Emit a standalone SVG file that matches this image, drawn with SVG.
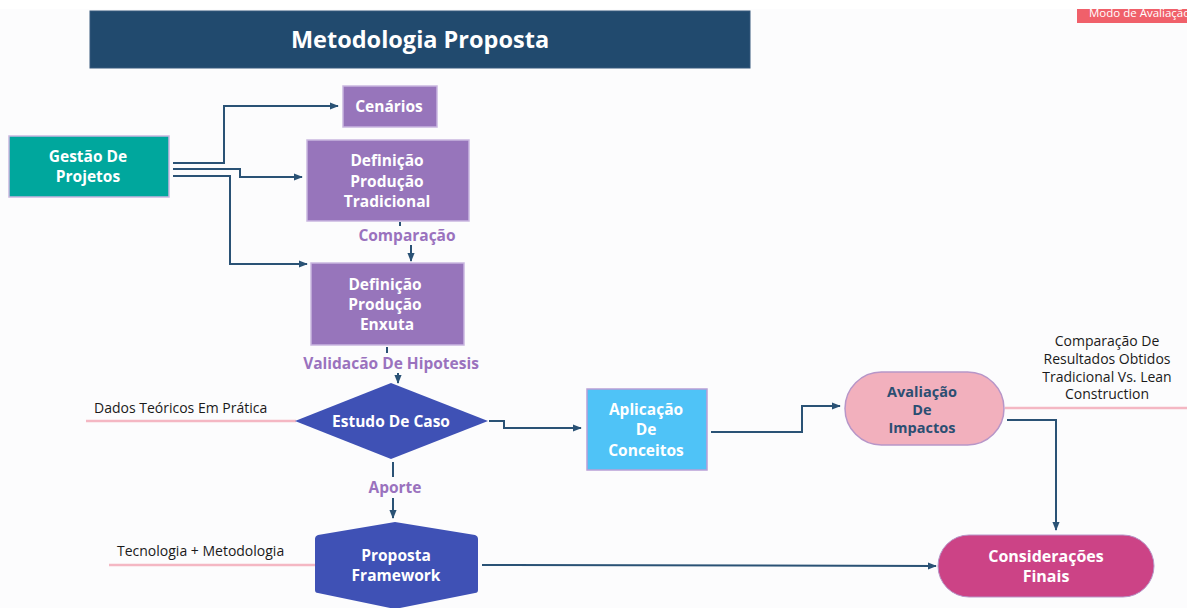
<svg xmlns="http://www.w3.org/2000/svg" width="1187" height="608" viewBox="0 0 1187 608">
<defs>
<style>
.t{font-family:"Open Sans","Liberation Sans",sans-serif;font-weight:700;fill:#fff;text-anchor:middle;dominant-baseline:central}
.lbl{font-family:"Open Sans","Liberation Sans",sans-serif;font-weight:700;fill:#9a72be;text-anchor:middle;dominant-baseline:central;font-size:15.5px}
.note{font-family:"Open Sans","Liberation Sans",sans-serif;font-weight:400;fill:#1a1a1a;font-size:14px}
.c{fill:none;stroke:#2a5275;stroke-width:2}
.pink{fill:none;stroke:#f4b7c3;stroke-width:2.5}
.box{stroke:#c9b6e0;stroke-width:1.5}
</style>
<marker id="a" viewBox="0 0 10 10" refX="9" refY="5" markerWidth="9" markerHeight="9" orient="auto" markerUnits="userSpaceOnUse">
<path d="M0,1 L10,5 L0,9 z" fill="#2a5275"/>
</marker>
<clipPath id="badgeclip"><rect x="1077" y="9" width="110" height="14"/></clipPath>
</defs>
<rect x="0" y="0" width="1187" height="608" fill="#fcfcfd"/>
<rect x="0" y="0" width="1187" height="9" fill="#ffffff"/>

<g id="title">
<rect x="90" y="11" width="660" height="57" fill="#214a6e" stroke="#36597c" stroke-width="1"/>
<text x="420" y="39" class="t" font-size="23.5">Metodologia Proposta</text>
</g>

<g id="badge" clip-path="url(#badgeclip)">
<rect x="1077" y="9" width="110" height="14" fill="#f0606a"/>
<text x="1089" y="17" font-family="'Open Sans','Liberation Sans',sans-serif" font-size="11.5" fill="#fff">Modo de Avaliação</text>
</g>

<g id="connectors">
<polyline class="c" points="173,163 224,163 224,106 338,106" marker-end="url(#a)"/>
<polyline class="c" points="173,169 240,169 240,177 302,177" marker-end="url(#a)"/>
<polyline class="c" points="173,176 230,176 230,264 307,264" marker-end="url(#a)"/>
<line class="c" x1="400" y1="222" x2="400" y2="226"/>
<line class="c" x1="411" y1="245" x2="411" y2="261" marker-end="url(#a)"/>
<line class="c" x1="387" y1="347" x2="387" y2="353"/>
<line class="c" x1="398" y1="373" x2="398" y2="383" marker-end="url(#a)"/>
<polyline class="c" points="489,421 504,421 504,428 581,428" marker-end="url(#a)"/>
<polyline class="c" points="711,432 802,432 802,406 840,406" marker-end="url(#a)"/>
<polyline class="c" points="1007,420 1056,420 1056,530" marker-end="url(#a)"/>
<line class="c" x1="393" y1="462" x2="393" y2="477"/>
<line class="c" x1="393" y1="498" x2="393" y2="518" marker-end="url(#a)"/>
<polyline class="c" points="482,565 936,566" marker-end="url(#a)"/>
<line class="pink" x1="86" y1="421" x2="296" y2="421"/>
<line class="pink" x1="1005" y1="408" x2="1187" y2="408"/>
<line class="pink" x1="109" y1="565" x2="316" y2="565"/>
</g>

<g id="gestao">
<rect class="box" x="9" y="136" width="160" height="61" fill="#00a79d"/>
<text class="t" x="88" y="156" font-size="15.5">Gestão De</text>
<text class="t" x="88" y="176" font-size="15.5">Projetos</text>
</g>

<g id="cenarios">
<rect class="box" x="343" y="86" width="94" height="41" fill="#9775bb"/>
<text class="t" x="389" y="106" font-size="15.5">Cenários</text>
</g>

<g id="tradicional">
<rect class="box" x="307" y="140" width="162" height="81" fill="#9775bb"/>
<text class="t" x="387" y="160" font-size="15.5">Definição</text>
<text class="t" x="387" y="181" font-size="15.5">Produção</text>
<text class="t" x="387" y="201" font-size="15.5">Tradicional</text>
</g>

<g id="lbl-comparacao">
<text class="lbl" x="407" y="235">Comparação</text>
</g>

<g id="enxuta">
<rect class="box" x="311" y="263" width="153" height="82" fill="#9775bb"/>
<text class="t" x="385" y="284" font-size="15.5">Definição</text>
<text class="t" x="385" y="304" font-size="15.5">Produção</text>
<text class="t" x="387" y="324" font-size="15.5">Enxuta</text>
</g>

<g id="lbl-validacao">
<text class="lbl" x="391" y="363">Validacão De Hipotesis</text>
</g>

<g id="estudo">
<polygon points="391,383 488,421 391,459 295,421" fill="#3f51b5"/>
<text class="t" x="391" y="421" font-size="15.5">Estudo De Caso</text>
</g>
<g id="note-dados">
<text class="note" x="94" y="413">Dados Teóricos Em Prática</text>
</g>

<g id="aplicacao">
<rect x="587" y="389" width="120" height="81" fill="#4fc3f7" stroke="#b89fd6" stroke-width="1.5"/>
<text class="t" x="646" y="409" font-size="15.5">Aplicação</text>
<text class="t" x="646" y="429" font-size="15.5">De</text>
<text class="t" x="646" y="450" font-size="15.5">Conceitos</text>
</g>

<g id="avaliacao">
<rect x="845" y="372" width="159" height="73" rx="36.5" ry="36.5" fill="#f2b0bd" stroke="#b796c8" stroke-width="1.5"/>
<text class="t" x="922" y="391" font-size="14.5" style="fill:#2b4e72">Avaliação</text>
<text class="t" x="922" y="409" font-size="14.5" style="fill:#2b4e72">De</text>
<text class="t" x="922" y="427" font-size="14.5" style="fill:#2b4e72">Impactos</text>
</g>
<g id="note-comparacao">
<text class="note" x="1107" y="346" text-anchor="middle">Comparação De</text>
<text class="note" x="1107" y="364" text-anchor="middle">Resultados Obtidos</text>
<text class="note" x="1107" y="382" text-anchor="middle">Tradicional Vs. Lean</text>
<text class="note" x="1107" y="399" text-anchor="middle">Construction</text>
</g>

<g id="lbl-aporte">
<text class="lbl" x="395" y="487">Aporte</text>
</g>

<g id="proposta">
<path d="M395,522 L475,535 Q478,536 478,539 L478,590 Q478,593 475,593 L395,609 L318,593 Q315,593 315,590 L315,539 Q315,536 318,535 Z" fill="#3f51b5"/>
<text class="t" x="396" y="555" font-size="15.5">Proposta</text>
<text class="t" x="396" y="575" font-size="15.5">Framework</text>
</g>
<g id="note-tecnologia">
<text class="note" x="117" y="556">Tecnologia + Metodologia</text>
</g>

<g id="consideracoes">
<rect x="938" y="535" width="216" height="62" rx="31" ry="31" fill="#cc4386" stroke="#b796c8" stroke-width="1"/>
<text class="t" x="1046" y="556" font-size="16">Considerações</text>
<text class="t" x="1046" y="576" font-size="16">Finais</text>
</g>
</svg>
